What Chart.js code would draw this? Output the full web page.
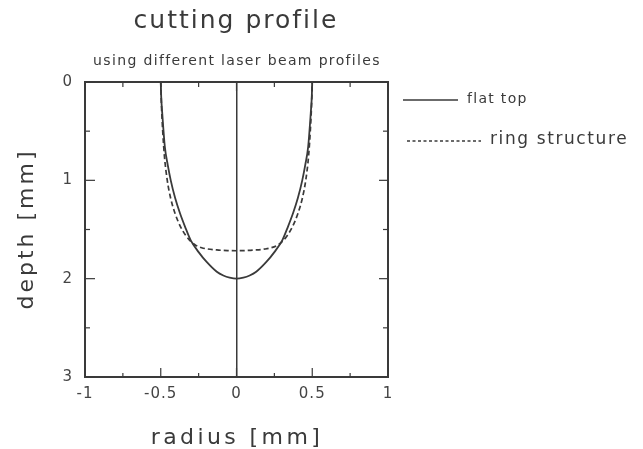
<!DOCTYPE html>
<html>
<head>
<meta charset="utf-8">
<script src="https://cdn.jsdelivr.net/npm/chart.js@4.4.0/dist/chart.umd.min.js"></script>
<style>
  body { margin: 0; background: #fff; }
</style>
</head>
<body>
<canvas id="myChart" width="643" height="449"></canvas>
<script>
// DATOS radius [mm] / depth [mm]
const flatTopR = [-0.5, -0.497, -0.49, -0.473, -0.453, -0.434, -0.405, -0.373, -0.34, -0.302, -0.25, -0.197, -0.13, -0.087, -0.045, 0,
                  0.045, 0.087, 0.13, 0.197, 0.25, 0.302, 0.34, 0.373, 0.405, 0.434, 0.453, 0.473, 0.49, 0.497, 0.5]
const flatTopD = [0, 0.15, 0.32, 0.66, 0.85, 1.0, 1.18, 1.335, 1.47, 1.61, 1.73, 1.83, 1.93, 1.968, 1.99, 2.0,
                  1.99, 1.968, 1.93, 1.83, 1.73, 1.61, 1.47, 1.335, 1.18, 1.0, 0.85, 0.66, 0.32, 0.15, 0]

const ringR = [-0.5, -0.495, -0.487, -0.476, -0.457, -0.435, -0.406, -0.37, -0.333, -0.3, -0.27, -0.23, -0.19, -0.13, -0.06, 0,
               0.06, 0.13, 0.19, 0.23, 0.27, 0.3, 0.333, 0.37, 0.406, 0.435, 0.457, 0.476, 0.487, 0.495, 0.5]
const ringD = [0, 0.25, 0.5, 0.75, 1.0, 1.18, 1.335, 1.47, 1.565, 1.625, 1.66, 1.685, 1.698, 1.708, 1.714, 1.716,
               1.714, 1.708, 1.698, 1.685, 1.66, 1.625, 1.565, 1.47, 1.335, 1.18, 1.0, 0.75, 0.5, 0.25, 0]

const xMajor = [-1, -0.5, 0, 0.5, 1]
const xMinor = [-0.75, -0.25, 0.25, 0.75]
const yMajor = [0, 1, 2, 3]
const yMinor = [0.5, 1.5, 2.5]

const seriesNames = ['flat top', 'ring structure']

const toPoints = (xs, ys) => xs.map((v, i) => ({ x: v, y: ys[i] }))

const ink = '#3a3a3a'
const fontFam = '"DejaVu Sans", sans-serif'

// marco, ticks hacia adentro, titulos y leyenda
const decor = {
  id: 'decor',
  beforeDraw: (chart) => {
    chart.ctx.letterSpacing = '1px'
  },
  afterDraw: (chart) => {
    const ctx = chart.ctx
    const a = chart.chartArea
    const x = chart.scales.x
    const y = chart.scales.y
    ctx.save()
    ctx.strokeStyle = ink
    ctx.lineWidth = 2
    ctx.strokeRect(a.left, a.top, a.right - a.left, a.bottom - a.top)

    ctx.lineWidth = 1.2
    const tick = (x1, y1, x2, y2) => { ctx.beginPath(); ctx.moveTo(x1, y1); ctx.lineTo(x2, y2); ctx.stroke() }
    xMajor.forEach(v => { const px = x.getPixelForValue(v); tick(px, a.bottom, px, a.bottom - 9); tick(px, a.top, px, a.top + 9) })
    xMinor.forEach(v => { const px = x.getPixelForValue(v); tick(px, a.bottom, px, a.bottom - 4); tick(px, a.top, px, a.top + 5) })
    yMajor.forEach(v => { const py = y.getPixelForValue(v); tick(a.left, py, a.left + 10, py); tick(a.right, py, a.right - 9, py) })
    yMinor.forEach(v => { const py = y.getPixelForValue(v); tick(a.left, py, a.left + 5, py); tick(a.right, py, a.right - 5, py) })

    // titulos
    ctx.fillStyle = ink
    ctx.textBaseline = 'alphabetic'
    ctx.textAlign = 'center'
    ctx.letterSpacing = '2px'
    ctx.font = '25px ' + fontFam
    ctx.fillText('cutting profile', 236, 28)
    ctx.letterSpacing = '1.35px'
    ctx.font = '14px ' + fontFam
    ctx.fillText('using different laser beam profiles', 237, 65)
    ctx.letterSpacing = '3.4px'
    ctx.font = '22px ' + fontFam
    ctx.fillText('radius [mm]', 237, 444)
    ctx.save()
    ctx.translate(33, 229)
    ctx.rotate(-Math.PI / 2)
    ctx.letterSpacing = '3px'
    ctx.fillText('depth [mm]', 0, 0)
    ctx.restore()

    // leyenda
    ctx.textAlign = 'left'
    ctx.textBaseline = 'middle'
    ctx.lineWidth = 1.5
    tick(403, 100, 458, 100)
    ctx.letterSpacing = '1.3px'
    ctx.font = '14px ' + fontFam
    ctx.fillText(seriesNames[0], 467, 99)
    ctx.setLineDash([3, 2.5])
    tick(407, 141, 481, 141)
    ctx.setLineDash([])
    ctx.letterSpacing = '1.6px'
    ctx.font = '17px ' + fontFam
    ctx.fillText(seriesNames[1], 490, 140)
    ctx.restore()
  }
}

const chart = document.getElementById('myChart')

new Chart(chart, {
  type: 'scatter',
  data: {
    datasets: [{
      label: seriesNames[0],
      data: toPoints(flatTopR, flatTopD),
      showLine: true,
      borderColor: ink,
      borderWidth: 1.8,
      pointRadius: 0,
      cubicInterpolationMode: 'monotone'
    }, {
      label: seriesNames[1],
      data: toPoints(ringR, ringD),
      showLine: true,
      borderColor: ink,
      borderWidth: 1.7,
      borderDash: [5, 3],
      pointRadius: 0,
      cubicInterpolationMode: 'monotone'
    }]
  },
  options: {
    responsive: false,
    animation: false,
    layout: { padding: { top: 82, right: 255, left: 0, bottom: 0 } },
    scales: {
      x: {
        type: 'linear',
        min: -1,
        max: 1,
        afterFit: (s) => { s.height = 72 },
        afterBuildTicks: (s) => { s.ticks = xMajor.map(v => ({ value: v })) },
        grid: {
          drawTicks: false,
          lineWidth: 1.5,
          color: (c) => c.tick && c.tick.value === 0 ? ink : 'rgba(0,0,0,0)'
        },
        border: { display: false },
        ticks: {
          padding: 8,
          color: '#444',
          font: { family: fontFam, size: 15 },
          maxRotation: 0,
          callback: (v) => String(v)
        }
      },
      y: {
        type: 'linear',
        min: 0,
        max: 3,
        reverse: true,
        afterFit: (s) => { s.width = 85 },
        afterBuildTicks: (s) => { s.ticks = yMajor.map(v => ({ value: v })) },
        grid: { display: false, drawTicks: false },
        border: { display: false },
        ticks: {
          padding: 12,
          color: '#444',
          font: { family: fontFam, size: 15 },
          callback: (v) => String(v)
        }
      }
    },
    plugins: {
      legend: { display: false },
      tooltip: { enabled: false }
    }
  },
  plugins: [decor]
})
</script>
</body>
</html>
